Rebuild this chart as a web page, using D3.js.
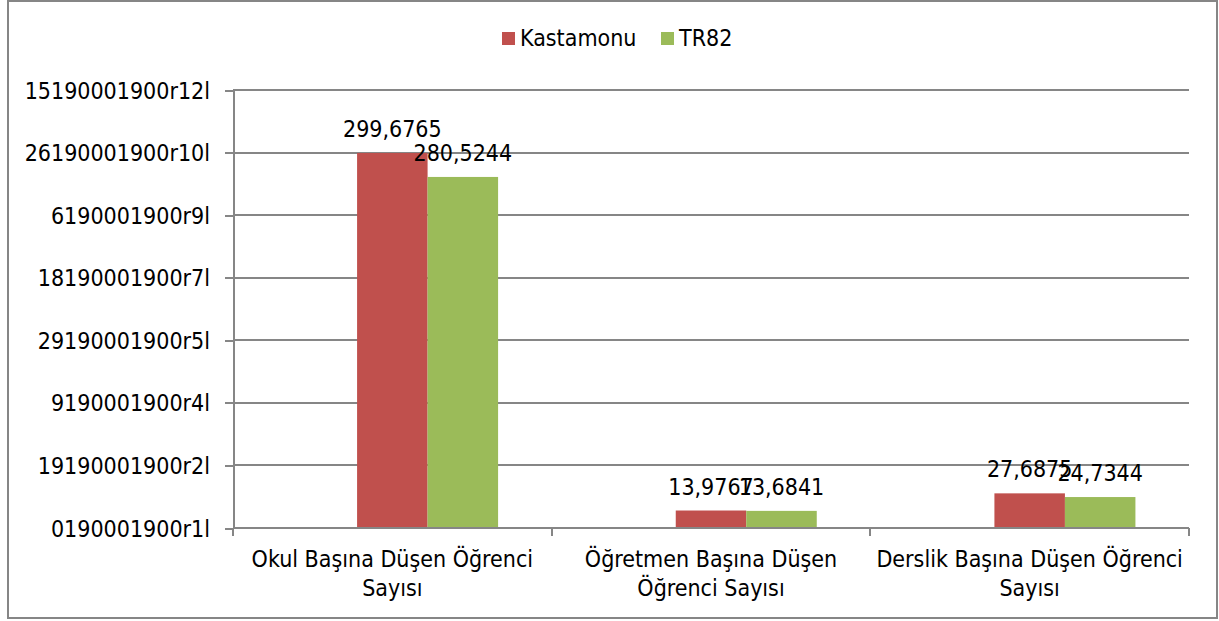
<!DOCTYPE html>
<meta charset="utf-8">
<style>
html, body {
  margin: 0;
  background: #fff;
}

.chart text {
  font-family: "DejaVu Sans Condensed", "DejaVu Sans", sans-serif;
  font-size: 23px;
  fill: #000;
}

.chart .grid line,
.chart .axis line,
.chart .axis path {
  stroke: #868686;
  stroke-width: 2;
  shape-rendering: crispEdges;
}
</style>
<body>
<svg class="chart" width="1219" height="621"></svg>

<script src="https://d3js.org/d3.v7.min.js"></script>
<script type="text/javascript">
"use strict";

var categories = [
  ["Okul Başına Düşen Öğrenci", "Sayısı"],
  ["Öğretmen Başına Düşen", "Öğrenci Sayısı"],
  ["Derslik Başına Düşen Öğrenci", "Sayısı"]
];
var seriesNames = ["", "Kastamonu", "TR82"];
var kastamonu = [299.6765, 13.9767, 27.6875];
var tr82 = [280.5244, 13.6841, 24.7344];
var tickValues = [0, 50, 100, 150, 200, 250, 300, 350];
var tickLabels = [
  "0190001900r1l", "19190001900r2l", "9190001900r4l", "29190001900r5l",
  "18190001900r7l", "6190001900r9l", "26190001900r10l", "15190001900r12l"
];
var valueLabels = [
  ["299,6765", "13,9767", "27,6875"],
  ["280,5244", "13,6841", "24,7344"]
];
var colors = ["none", "#C0504D", "#9BBB59"];

var margin = { left: 233, right: 1189, top: 90, bottom: 528 };

var svg = d3.select(".chart");

// outer frame
svg.append("rect")
  .attr("x", 8).attr("y", 1)
  .attr("width", 1209).attr("height", 617)
  .attr("fill", "#fff")
  .attr("stroke", "#868686")
  .attr("stroke-width", 2);

var x = d3.scaleBand()
  .domain(d3.range(categories.length))
  .range([margin.left, margin.right])
  .paddingInner(0)
  .paddingOuter(0);

// three slots per category, the first one is an empty series
var xSeries = d3.scaleBand()
  .domain(d3.range(seriesNames.length))
  .range([0, x.bandwidth()])
  .paddingOuter(0.76)
  .paddingInner(0);

var y = d3.scaleLinear()
  .domain([0, 350])
  .range([margin.bottom, margin.top]);

// gridlines
svg.append("g").attr("class", "grid")
  .selectAll("line")
  .data(tickValues.slice(1))
  .join("line")
  .attr("x1", margin.left).attr("x2", margin.right)
  .attr("y1", function(d) { return y(d); })
  .attr("y2", function(d) { return y(d); });

// y axis
var yAxis = svg.append("g").attr("class", "axis")
  .attr("transform", "translate(" + margin.left + ",0)")
  .call(d3.axisLeft(y)
    .tickValues(tickValues)
    .tickSize(8)
    .tickSizeOuter(0)
    .tickPadding(15)
    .tickFormat(function(d, i) { return tickLabels[i]; }));
yAxis.selectAll("text").attr("dy", "0.35em");

// bars
var series = [null, kastamonu, tr82];
series.forEach(function(vals, s) {
  if (!vals) return;
  svg.append("g")
    .selectAll("rect")
    .data(vals)
    .join("rect")
    .attr("x", function(d, i) { return x(i) + xSeries(s); })
    .attr("width", xSeries.bandwidth())
    .attr("y", function(d) { return y(d); })
    .attr("height", function(d) { return y(0) - y(d); })
    .attr("fill", colors[s]);

  svg.append("g")
    .selectAll("text")
    .data(vals)
    .join("text")
    .attr("x", function(d, i) { return x(i) + xSeries(s) + xSeries.bandwidth() / 2; })
    .attr("y", function(d) { return y(d) - 16; })
    .attr("text-anchor", "middle")
    .text(function(d, i) { return valueLabels[s - 1][i]; });
});

// x axis
var xAxis = svg.append("g").attr("class", "axis");
xAxis.append("line")
  .attr("x1", margin.left).attr("x2", margin.right)
  .attr("y1", margin.bottom).attr("y2", margin.bottom);
xAxis.selectAll(".tick")
  .data(d3.range(categories.length + 1))
  .join("line")
  .attr("x1", function(d) { return margin.left + d * x.bandwidth(); })
  .attr("x2", function(d) { return margin.left + d * x.bandwidth(); })
  .attr("y1", margin.bottom).attr("y2", margin.bottom + 8);

var catText = svg.append("g")
  .selectAll("text")
  .data(categories)
  .join("text")
  .attr("text-anchor", "middle")
  .attr("x", function(d, i) { return x(i) + x.bandwidth() / 2; })
  .attr("y", 567);
catText.selectAll("tspan")
  .data(function(d) { return d; })
  .join("tspan")
  .attr("x", function() { return d3.select(this.parentNode).attr("x"); })
  .attr("dy", function(d, i) { return i ? 29 : 0; })
  .text(function(d) { return d; });

// legend
var legendItems = [
  { name: seriesNames[1], color: colors[1], x: 502 },
  { name: seriesNames[2], color: colors[2], x: 661 }
];
var legend = svg.append("g")
  .selectAll("g")
  .data(legendItems)
  .join("g")
  .attr("transform", function(d) { return "translate(" + d.x + ",32)"; });
legend.append("rect")
  .attr("width", 13).attr("height", 13)
  .attr("fill", function(d) { return d.color; });
legend.append("text")
  .attr("x", 18).attr("y", 14)
  .text(function(d) { return d.name; });
</script>
</body>
